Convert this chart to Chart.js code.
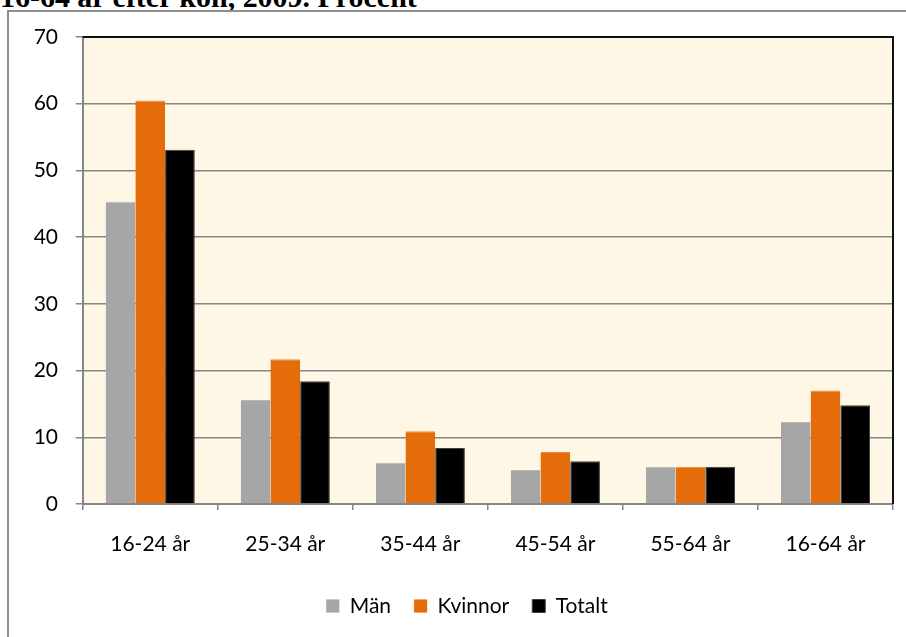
<!DOCTYPE html>
<html><head><meta charset="utf-8">
<script src="https://cdn.jsdelivr.net/npm/chart.js@4"></script>
<style>
html,body{margin:0;padding:0;background:#fff;width:906px;height:637px;overflow:hidden;position:relative}
#frame{position:absolute;left:7px;top:10px;width:1000px;height:1000px;border:2px solid #8e8e8e;box-sizing:border-box}
#title{position:absolute;left:0;top:-13px;font-family:"Liberation Serif";font-weight:bold;font-size:24px;line-height:1;white-space:nowrap;color:#000}
#wrap{position:absolute;left:0;top:0;width:906px;height:637px}
</style></head><body>
<div id="title">16-64 år efter kön, 2009. Procent</div>
<div id="frame"></div>
<div id="wrap"><canvas id="c"></canvas></div>
<script>
const categories = ["16-24 år","25-34 år","35-44 år","45-54 år","55-64 år","16-64 år"];
const seriesNames = ["Män","Kvinnor","Totalt"];
const manValues = [45.3,15.6,6.2,5.1,5.6,12.3];
const kvinnorValues = [60.5,21.7,10.9,7.8,5.6,17.0];
const totaltValues = [53.1,18.4,8.4,6.4,5.6,14.8];
const yMin = 0, yMax = 70, yStep = 10;

// fit title width
(function(){
  const t = document.getElementById('title');
  const w = t.getBoundingClientRect().width;
  const target = 417;
  const fs = 24*target/w;
  t.style.fontSize = fs + 'px';
  t.style.top = (7 - 0.8375*fs) + 'px';
})();

const FONT = {family:'Lato', size:21};
const gridGrey = '#868686';

const plotBg = {
  id:'plotBg',
  afterLayout(chart){
    const lg = chart.legend;
    if (lg) { lg.left += 20.5; lg.right += 20.5; }
  },
  beforeDraw(chart){
    const {ctx, chartArea:a} = chart;
    ctx.save();
    ctx.fillStyle = '#FFF7E6';
    ctx.fillRect(a.left, a.top, a.right-a.left, a.bottom-a.top);
    ctx.restore();
  },
  afterDraw(chart){
    const {ctx, chartArea:a} = chart;
    ctx.save();
    ctx.strokeStyle = '#111';
    ctx.lineWidth = 2;
    ctx.beginPath();
    ctx.moveTo(a.left, a.top);
    ctx.lineTo(a.right, a.top);
    ctx.lineTo(a.right, a.bottom);
    ctx.stroke();
    ctx.restore();
  }
};

new Chart(document.getElementById('c'), {
  type:'bar',
  data:{
    labels: categories,
    datasets:[
      {label:seriesNames[0], data:manValues, backgroundColor:'#A6A6A6', borderColor:'#B8B8B8', borderWidth:{top:1,left:0,right:0,bottom:0}},
      {label:seriesNames[1], data:kvinnorValues, backgroundColor:'#E46C0A', borderColor:'#F08A40', borderWidth:{top:1,left:0,right:0,bottom:0}},
      {label:seriesNames[2], data:totaltValues, backgroundColor:'#000000', borderColor:'#404040', borderWidth:1}
    ]
  },
  options:{
    responsive:true, maintainAspectRatio:false, animation:false,
    devicePixelRatio:1,
    layout:{padding:{left:0, right:13, top:37, bottom:10.5}},
    categoryPercentage:0.66, barPercentage:1.0,
    plugins:{
      legend:{position:'bottom', labels:{font:FONT, color:'#000', boxWidth:13, boxHeight:13, padding:23}},
      tooltip:{enabled:false}
    },
    scales:{
      x:{
        grid:{display:true, drawOnChartArea:false, drawTicks:true, tickLength:6, color:gridGrey, lineWidth:1.5, offset:true},
        border:{display:true, color:gridGrey, width:2},
        ticks:{font:FONT, color:'#000', padding:22, maxRotation:0},
        afterFit(s){ s.height = 68.5; }
      },
      y:{
        min:yMin, max:yMax,
        grid:{color:gridGrey, lineWidth:1.5, tickLength:7, drawTicks:true},
        border:{display:true, color:gridGrey, width:2},
        ticks:{font:FONT, color:'#000', stepSize:yStep, padding:17.7},
        afterFit(s){ s.width = 82.7; }
      }
    }
  },
  plugins:[plotBg]
});
</script>
</body></html>
